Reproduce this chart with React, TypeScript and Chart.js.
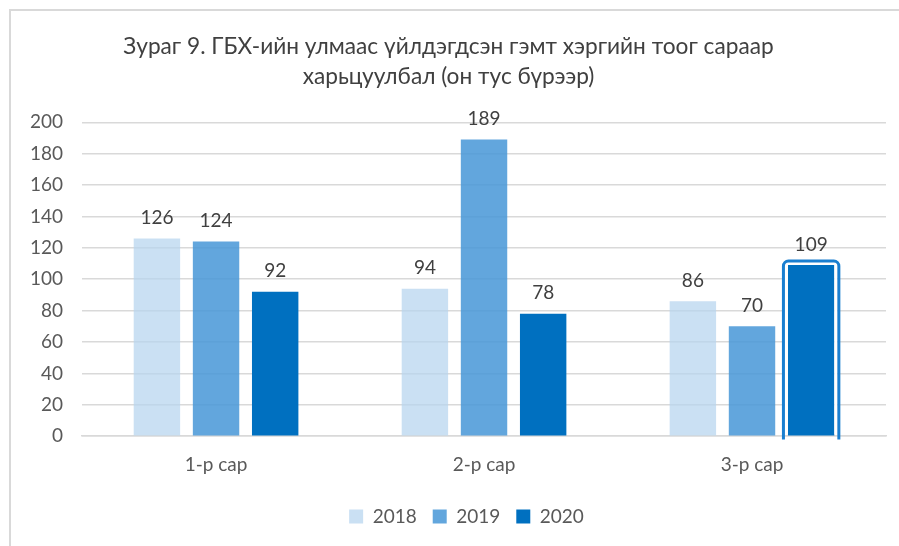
import React, { useEffect, useRef } from "react";
import { Chart, registerables } from "chart.js";

Chart.register(...registerables);

const titleLines = ["Зураг 9. ГБХ-ийн улмаас үйлдэгдсэн гэмт хэргийн тоог сараар", "харьцуулбал (он тус бүрээр)"];
const categories = ["1-р сар", "2-р сар", "3-р сар"];
const seriesNames = ["2018", "2019", "2020"];
const values2018 = [126, 94, 86];
const values2019 = [124, 189, 70];
const values2020 = [92, 78, 109];
const yMin = 0;
const yMax = 200;
const yStep = 20;

const FONT = "Lato, 'Noto Sans', sans-serif";

const labelPlugin = {
  id: "barLabels",
  afterDatasetsDraw(chart: any) {
    const ctx = chart.ctx;
    ctx.save();
    ctx.font = `19px ${FONT}`;
    ctx.fillStyle = "#404040";
    ctx.textAlign = "center";
    ctx.textBaseline = "bottom";
    chart.data.datasets.forEach((ds: any, di: number) => {
      const meta = chart.getDatasetMeta(di);
      meta.data.forEach((el: any, i: number) => {
        ctx.fillText(String(ds.data[i]), el.x, el.y - 11);
      });
    });
    ctx.restore();
  },
};

const highlightPlugin = {
  id: "highlight",
  afterDatasetsDraw(chart: any) {
    const meta = chart.getDatasetMeta(2);
    const el = meta.data[2];
    if (!el) return;
    const ctx = chart.ctx;
    const half = el.width / 2;
    ctx.save();
    ctx.strokeStyle = "#ffffff";
    ctx.lineWidth = 3;
    ctx.beginPath();
    ctx.moveTo(el.x - half - 1.5, el.base - 1);
    ctx.lineTo(el.x - half - 1.5, el.y - 1.5);
    ctx.lineTo(el.x + half + 1.5, el.y - 1.5);
    ctx.lineTo(el.x + half + 1.5, el.base - 1);
    ctx.stroke();
    const x0 = el.x - half - 4.5;
    const x1 = el.x + half + 4.5;
    const y0 = el.y - 4;
    const y1 = el.base + 4;
    const r = 5;
    ctx.strokeStyle = "#1a7fd0";
    ctx.lineWidth = 3;
    ctx.beginPath();
    ctx.moveTo(x0, y1);
    ctx.lineTo(x0, y0 + r);
    ctx.arcTo(x0, y0, x0 + r, y0, r);
    ctx.lineTo(x1 - r, y0);
    ctx.arcTo(x1, y0, x1, y0 + r, r);
    ctx.lineTo(x1, y1);
    ctx.stroke();
    ctx.restore();
  },
};

const legendShiftPlugin = {
  id: "legendShift",
  beforeDraw(chart: any) {
    const lg = chart.legend;
    if (lg && !lg._shifted) {
      lg.left += 18;
      lg.right += 18;
      lg._shifted = true;
    }
  },
};

export default function App() {
  const ref = useRef<HTMLCanvasElement>(null);
  useEffect(() => {
    if (!ref.current) return;
    const chart = new Chart(ref.current, {
      type: "bar",
      data: {
        labels: categories,
        datasets: [
          { label: seriesNames[0], data: values2018, backgroundColor: "rgba(182,212,238,0.72)" },
          { label: seriesNames[1], data: values2019, backgroundColor: "rgba(70,150,215,0.85)" },
          { label: seriesNames[2], data: values2020, backgroundColor: "#0070c0" },
        ],
      },
      options: {
        responsive: false,
        animation: false,
        categoryPercentage: 0.662,
        barPercentage: 0.785,
        layout: { padding: { left: 0, right: 13, top: 20, bottom: 10 } },
        scales: {
          x: {
            grid: { display: false },
            border: { color: "#d9d9d9", width: 1.5 },
            ticks: { font: { family: FONT, size: 19 }, color: "#595959", padding: 9 },
            afterFit: (scale: any) => {
              scale.height += 6;
            },
          },
          y: {
            min: yMin,
            max: yMax,
            ticks: { stepSize: yStep, font: { family: FONT, size: 19 }, color: "#595959", padding: 19 },
            grid: { color: "#d9d9d9", lineWidth: 1.5, drawTicks: false },
            border: { display: false },
          },
        },
        plugins: {
          title: {
            display: true,
            text: titleLines,
            font: { family: FONT, size: 22.7, weight: "normal", lineHeight: 1.35 },
            color: "#404040",
            padding: { top: 0, bottom: 30 },
          },
          legend: {
            position: "bottom",
            labels: {
              boxWidth: 14,
              boxHeight: 14,
              font: { family: FONT, size: 19 },
              color: "#595959",
              padding: 16,
            },
          },
          tooltip: { enabled: false },
        },
      },
      plugins: [labelPlugin, highlightPlugin, legendShiftPlugin],
    });
    return () => chart.destroy();
  }, []);
  return (
    <div style={{ position: "fixed", left: 0, top: 0, width: 899, height: 546, background: "#fff" }}>
      <div
        style={{
          position: "absolute",
          left: 9,
          top: 9,
          width: 900,
          height: 560,
          borderLeft: "2px solid #d9d9d9",
          borderTop: "2px solid #d9d9d9",
        }}
      />
      <canvas ref={ref} width={888} height={535} style={{ position: "absolute", left: 11, top: 11 }} />
    </div>
  );
}
